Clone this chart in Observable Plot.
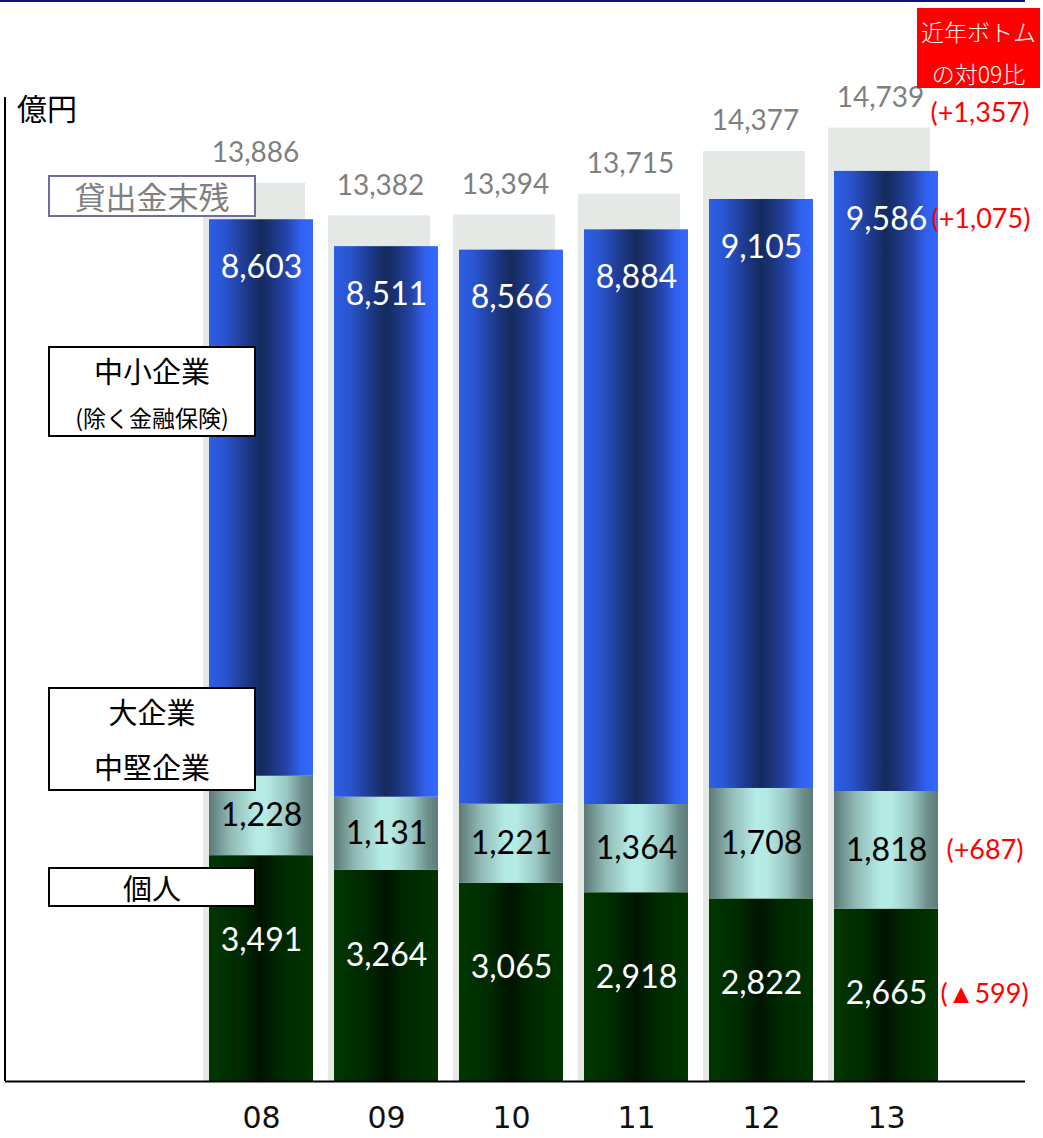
<!DOCTYPE html>
<html>
<head>
<meta charset="utf-8">
<script src="https://cdn.jsdelivr.net/npm/d3@7"></script>
<script src="https://cdn.jsdelivr.net/npm/@observablehq/plot@0.6"></script>
<style>
  html, body { margin: 0; padding: 0; background: #fff; }
  #wrap { position: relative; width: 1043px; height: 1138px; overflow: hidden; }
  .box { position: absolute; background: #fff; box-sizing: border-box; border: 2px solid #000;
         font-family: "Noto Sans CJK JP", sans-serif; color: #000; text-align: center; }
  .ln { position: absolute; left: 0; right: 0; text-align: center; line-height: 1; white-space: nowrap; }
</style>
</head>
<body>
<div id="wrap"></div>
<script>
// ---- data ----
const years = ["08", "09", "10", "11", "12", "13"];
const totalLoans = [13886, 13382, 13394, 13715, 14377, 14739];   // 貸出金末残
const smeLoans = [8603, 8511, 8566, 8884, 9105, 9586];           // 中小企業（除く金融保険）
const largeMidLoans = [1228, 1131, 1221, 1364, 1708, 1818];      // 大企業・中堅企業
const individualLoans = [3491, 3264, 3065, 2918, 2822, 2665];    // 個人
const baseYear = "09";
const lastYear = "13";

const fmt = d3.format(",");
const rows = years.map((year, i) => {
  const ind = individualLoans[i], lm = largeMidLoans[i], sme = smeLoans[i];
  return {year, total: totalLoans[i], ind, lm, sme, lmTop: ind + lm, smeTop: ind + lm + sme};
});
const bi = years.indexOf(baseYear), li = years.indexOf(lastYear);
const diffText = (arr) => {
  const d = arr[li] - arr[bi];
  return d >= 0 ? `(+${fmt(d)})` : `(▲${fmt(-d)})`;
};
const lastRows = rows.filter(d => d.year === lastYear);

const numFont = "Lato, 'Open Sans', sans-serif";

const plot = Plot.plot({
  width: 1043,
  height: 1138,
  marginTop: 97,
  marginBottom: 57,
  marginLeft: 5,
  marginRight: 18,
  style: {fontFamily: "'DejaVu Sans', sans-serif", fontSize: "30px", color: "#111", background: "transparent", overflow: "visible"},
  x: {domain: years, range: [209, 938], paddingInner: 0.168, paddingOuter: 0, tickSize: 0, tickPadding: 25, label: null},
  y: {domain: [0, 16000], range: [1081, 46], axis: null},
  marks: [
    Plot.barY(rows, {x: "year", y: "total", fill: "#e4e9e5", dx: -6, insetRight: 2}),
    Plot.barY(rows, {x: "year", y1: 0, y2: "ind", fill: "url(#gGreen)"}),
    Plot.barY(rows, {x: "year", y1: "ind", y2: "lmTop", fill: "url(#gTeal)"}),
    Plot.barY(rows, {x: "year", y1: "lmTop", y2: "smeTop", fill: "url(#gBlue)"}),
    Plot.text(rows, {x: "year", y: "total", text: d => fmt(d.total), dx: -6, dy: -30, fill: "#7f7f7f", fontSize: 28, fontFamily: numFont}),
    Plot.text(rows, {x: "year", y: "smeTop", text: d => fmt(d.sme), dy: 48, fill: "#fff", fontSize: 32, fontFamily: numFont}),
    Plot.text(rows, {x: "year", y: d => d.ind + d.lm / 2, text: d => fmt(d.lm), fill: "#000", fontSize: 32, fontFamily: numFont}),
    Plot.text(rows, {x: "year", y: "ind", text: d => fmt(d.ind), dy: 85, fill: "#fff", fontSize: 32, fontFamily: numFont}),
    Plot.text(lastRows, {x: "year", y: "total", text: () => diffText(totalLoans), dx: 44, dy: -15, textAnchor: "start", fill: "#ff0000", fontSize: 27, fontFamily: numFont}),
    Plot.text(lastRows, {x: "year", y: "smeTop", text: () => diffText(smeLoans), dx: 45, dy: 48, textAnchor: "start", fill: "#ff0000", fontSize: 27, fontFamily: numFont}),
    Plot.text(lastRows, {x: "year", y: d => d.ind + d.lm / 2, text: () => diffText(largeMidLoans), dx: 60, textAnchor: "start", fill: "#ff0000", fontSize: 27, fontFamily: numFont}),
    Plot.text(lastRows, {x: "year", y: "ind", text: () => diffText(individualLoans), dx: 54, dy: 85, textAnchor: "start", fill: "#ff0000", fontSize: 27, fontFamily: numFont}),
    Plot.ruleY([0], {stroke: "#000", strokeWidth: 2})
  ]
});

const svgSel = d3.select(plot);
const defs = svgSel.insert("defs", ":first-child");
function grad(id, stops) {
  const g = defs.append("linearGradient").attr("id", id)
    .attr("x1", "0").attr("x2", "1").attr("y1", "0").attr("y2", "0");
  stops.forEach(([o, c]) => g.append("stop").attr("offset", o).attr("stop-color", c));
}
grad("gBlue", [[0, "#2d5ee6"], [0.15, "#2a55d0"], [0.35, "#1d3a8c"], [0.5, "#152a5c"], [0.6, "#1a3378"], [0.75, "#2645ac"], [0.88, "#3060ee"], [1, "#3468ff"]]);
grad("gTeal", [[0, "#5c7875"], [0.2, "#8fb8b3"], [0.45, "#b5ebe5"], [0.55, "#b5ebe5"], [0.75, "#98c6c1"], [0.9, "#6c8f8b"], [1, "#5e7b78"]]);
grad("gGreen", [[0, "#003800"], [0.3, "#002a00"], [0.5, "#001400"], [0.65, "#002600"], [1, "#003500"]]);

const yScale = plot.scale("y");
svgSel.append("line").attr("x1", 5).attr("x2", 5).attr("y1", 97).attr("y2", yScale.apply(0))
  .attr("stroke", "#000").attr("stroke-width", 2);

const wrap = document.getElementById("wrap");
wrap.appendChild(plot);
plot.style.position = "absolute";
plot.style.left = "0";
plot.style.top = "0";

function addBox(css, lines, border) {
  const b = document.createElement("div");
  b.className = "box";
  Object.assign(b.style, css);
  if (border) b.style.border = border;
  lines.forEach(l => {
    const s = document.createElement("div");
    s.className = "ln";
    Object.assign(s.style, l.style);
    s.textContent = l.text;
    b.appendChild(s);
  });
  wrap.appendChild(b);
}
const topRule = document.createElement("div");
Object.assign(topRule.style, {position: "absolute", left: "0", top: "0", width: "1025px", height: "2px", background: "#10107a"});
wrap.appendChild(topRule);
const unitLabel = document.createElement("div");
Object.assign(unitLabel.style, {position: "absolute", left: "17px", top: "92px", fontFamily: "'Noto Sans CJK JP', sans-serif", fontSize: "30px", lineHeight: "1", color: "#000"});
unitLabel.textContent = "億円";
wrap.appendChild(unitLabel);

addBox({left: "917px", top: "8px", width: "123px", height: "80px", background: "#ff0000", border: "none", color: "#fff"},
  [{text: "近年ボトム", style: {top: "12px", fontSize: "23px", color: "#fff", fontWeight: "300"}},
   {text: "の対09比", style: {top: "54px", fontSize: "23px", color: "#fff", fontWeight: "300"}}]);
addBox({left: "48px", top: "175px", width: "208px", height: "42px"},
  [{text: "貸出金末残", style: {top: "3px", fontSize: "31px", color: "#808080"}}], "2px solid #6f6f9f");
addBox({left: "48px", top: "346px", width: "208px", height: "91px"},
  [{text: "中小企業", style: {top: "8px", fontSize: "29px"}},
   {text: "(除く金融保険)", style: {top: "58px", fontSize: "23px"}}]);
addBox({left: "48px", top: "687px", width: "208px", height: "104px"},
  [{text: "大企業", style: {top: "8px", fontSize: "29px"}},
   {text: "中堅企業", style: {top: "63px", fontSize: "29px"}}]);
addBox({left: "48px", top: "867px", width: "208px", height: "40px"},
  [{text: "個人", style: {top: "4px", fontSize: "29px"}}]);
</script>
</body>
</html>
